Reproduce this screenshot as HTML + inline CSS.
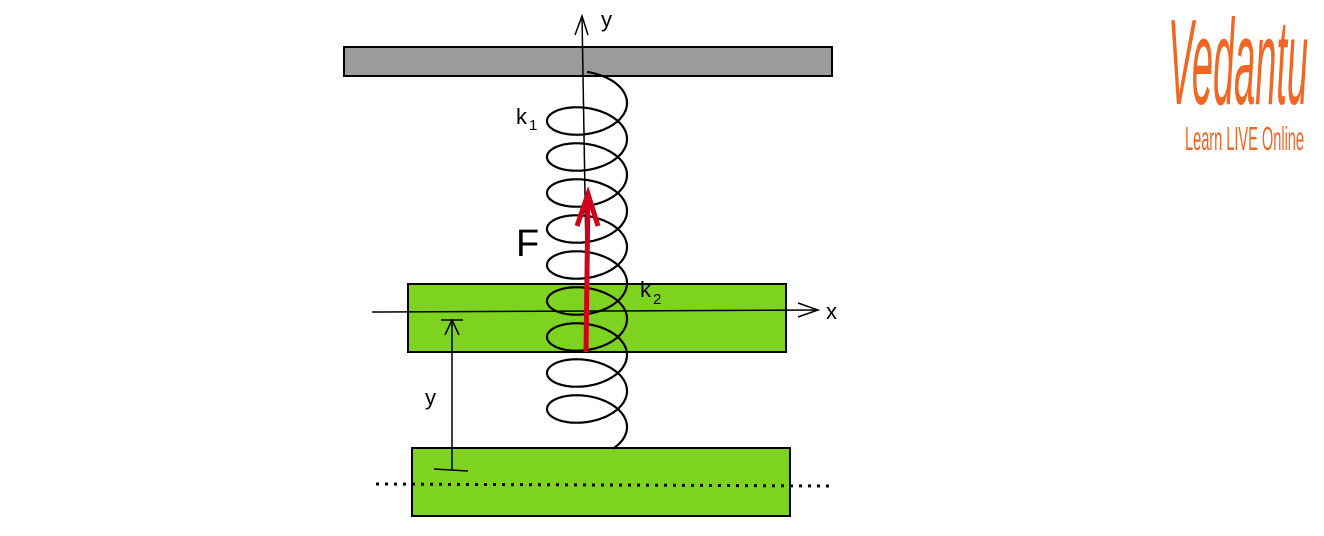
<!DOCTYPE html>
<html><head><meta charset="utf-8"><style>html,body{margin:0;padding:0;background:#fff}svg{display:block}</style></head>
<body>
<svg id="s" width="1324" height="536" viewBox="0 0 1324 536" xmlns="http://www.w3.org/2000/svg" font-family="Liberation Sans, sans-serif">
<rect x="344" y="47" width="488" height="29" fill="#9b9b9b" stroke="#000" stroke-width="2"/>
<rect x="408" y="284" width="378" height="68" fill="#7ed321" stroke="#000" stroke-width="2"/>
<rect x="412" y="448" width="378" height="68" fill="#7ed321" stroke="#000" stroke-width="2"/>
<line x1="376" y1="484" x2="832" y2="486" stroke="#000" stroke-width="3" stroke-dasharray="3,6"/>
<path id="spring" d="" fill="none" stroke="#000" stroke-width="2.2"/>
<line x1="582" y1="16" x2="587" y2="312" stroke="#000" stroke-width="1.5"/>
<polyline points="575,35 582,16 588,35" fill="none" stroke="#000" stroke-width="1.5"/>
<text x="601" y="27" font-size="22">y</text>
<line x1="372" y1="312" x2="818" y2="310" stroke="#000" stroke-width="1.5"/>
<polyline points="798,303 818,310 798,317" fill="none" stroke="#000" stroke-width="1.5"/>
<text x="826" y="319" font-size="22">x</text>
<line x1="586" y1="352" x2="588" y2="194" stroke="#d0021b" stroke-width="5"/>
<polyline points="577,226 588,194 598,226" fill="none" stroke="#d0021b" stroke-width="5"/>
<line x1="452" y1="320" x2="452" y2="470" stroke="#000" stroke-width="1.5"/>
<line x1="441" y1="320" x2="463" y2="320" stroke="#000" stroke-width="1.5"/>
<polyline points="445,335 452,320 459,335" fill="none" stroke="#000" stroke-width="1.5"/>
<line x1="434" y1="469" x2="468" y2="471" stroke="#000" stroke-width="1.5"/>
<text x="516" y="124" font-size="22">k</text><text x="529" y="130" font-size="15">1</text>
<text x="516" y="256" font-size="38">F</text>
<text x="640" y="297" font-size="22">k</text><text x="653" y="304" font-size="15">2</text>
<text x="425" y="405" font-size="22">y</text>
<text x="1168" y="104" font-size="122" fill="#f26522" textLength="140" lengthAdjust="spacingAndGlyphs" font-style="italic">Vedantu</text>
<text x="1185" y="150" font-size="33" fill="#f26522" textLength="119" lengthAdjust="spacingAndGlyphs">Learn LIVE Online</text>
</svg>
<script>
(function(){var cx=587,R=40,r=22,d="";
var t0=-Math.PI/2,t1=18*Math.PI+0.86;
for(var t=t0;t<=t1+0.001;t+=0.04){var x=cx+R*Math.cos(t),y=103+36*t/(2*Math.PI)+r*Math.sin(t);d+=(d?" L":"M")+x.toFixed(1)+","+y.toFixed(1);}
d+=" L613,449";document.getElementById("spring").setAttribute("d",d);})();
</script>
</body></html>
